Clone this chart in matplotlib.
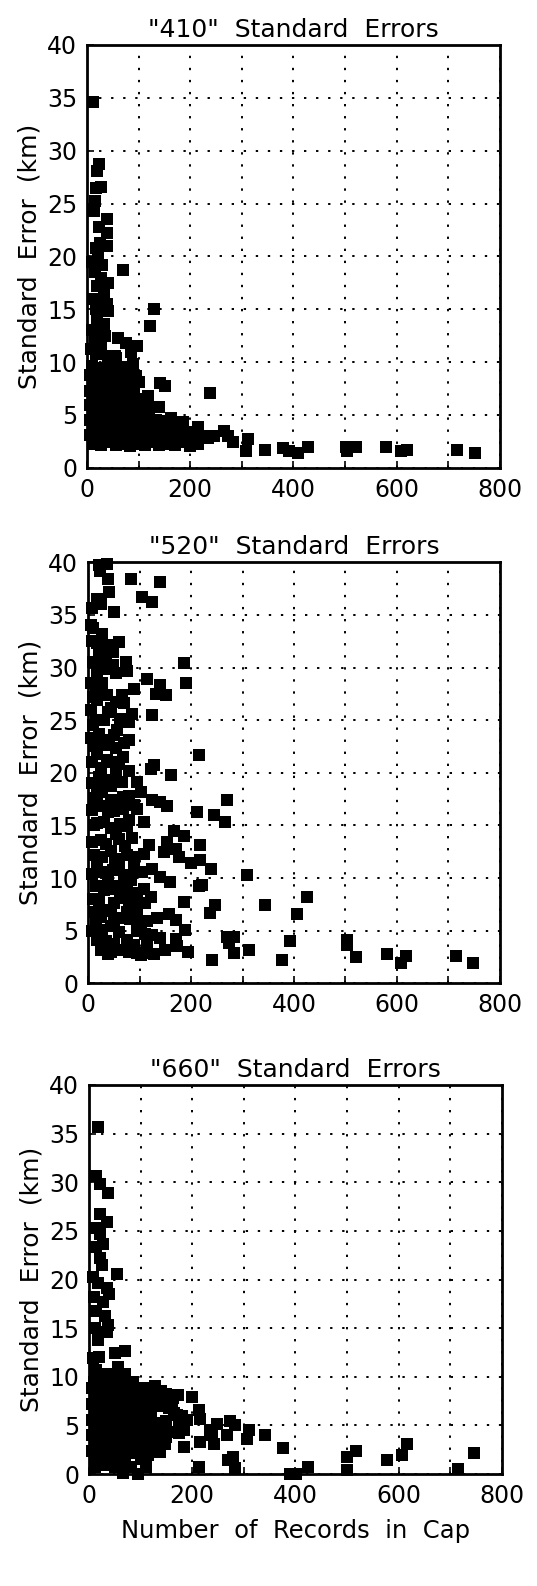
import numpy as np
import matplotlib
matplotlib.use('Agg')
import matplotlib.pyplot as plt

# ------------------------------------------------------
# Data: (records in cap, standard error km)
titles = ['"410"  Standard  Errors', '"520"  Standard  Errors', '"660"  Standard  Errors']

pts410 = [
    (12, 34.6), (23, 28.7), (20, 28.1), (17, 26.5), (28, 26.6), (15, 25.2), (14, 24.3),
    (39, 23.5), (23, 22.8), (38, 22.2), (25, 21.3), (38, 21.0), (18, 20.8), (70, 18.7),
    (10, 19.5), (22, 19.8), (30, 19.2), (15, 18.5), (28, 18.0), (40, 17.5), (20, 17.2),
    (33, 16.6), (12, 16.0), (25, 15.8), (38, 15.5), (30, 15.0), (18, 15.0), (40, 14.8),
    (20, 14.0), (32, 13.6), (10, 13.0), (25, 12.8), (35, 12.5), (15, 12.0), (28, 11.5),
    (60, 12.3), (76, 11.8), (96, 11.5), (86, 11.0), (129, 15.0), (123, 13.4), (18, 10.8),
    (40, 10.5), (55, 10.6), (8, 11.2), (25, 11.2), (44, 10.6), (57, 10.4),
    (10, 9.6), (24, 9.4), (40, 9.7), (58, 9.3), (74, 9.5), (90, 9.8),
    (6, 8.8), (18, 8.9), (33, 8.6), (48, 8.8), (63, 8.9), (80, 8.7), (94, 8.7),
    (12, 8.0), (27, 8.1), (42, 7.9), (56, 8.2), (70, 8.0), (86, 7.9), (100, 8.1),
    (6, 7.3), (20, 7.2), (35, 7.4), (50, 7.3), (64, 7.2), (78, 7.4), (92, 7.3),
    (13, 6.6), (28, 6.5), (42, 6.7), (56, 6.6), (70, 6.5), (84, 6.6), (100, 6.5),
    (6, 5.9), (20, 5.8), (35, 6.0), (50, 5.9), (64, 5.8), (78, 6.0), (92, 5.9), (108, 5.9),
    (13, 5.2), (28, 5.1), (42, 5.3), (56, 5.2), (70, 5.1), (84, 5.3), (100, 5.2), (114, 5.1),
    (6, 4.5), (20, 4.4), (35, 4.6), (50, 4.5), (64, 4.4), (78, 4.6), (92, 4.5), (106, 4.4),
    (120, 4.6), (134, 4.5), (148, 4.4),
    (13, 3.8), (28, 3.7), (42, 3.9), (56, 3.8), (70, 3.7), (84, 3.9), (98, 3.8), (112, 3.7),
    (126, 3.9), (140, 3.8), (155, 3.7), (170, 3.9), (185, 3.6), (200, 3.4),
    (6, 3.1), (20, 3.0), (35, 3.2), (50, 3.1), (64, 3.0), (78, 3.2), (92, 3.1), (106, 3.0),
    (120, 3.2), (134, 3.1), (148, 3.0), (162, 3.2), (176, 3.1), (190, 3.0), (205, 3.1), (222, 3.0),
    (13, 2.3), (28, 2.2), (42, 2.4), (56, 2.2), (70, 2.3), (84, 2.1), (98, 2.3), (112, 2.2),
    (126, 2.4), (140, 2.2), (155, 2.3), (170, 2.2), (185, 2.4), (200, 2.1), (215, 2.3),
    (163, 4.7), (186, 4.3), (215, 3.9), (238, 7.1), (141, 8.0), (152, 7.7), (118, 6.8),
    (125, 5.8), (140, 5.8), (265, 3.5), (273, 3.0), (247, 3.0), (235, 2.8), (312, 2.7),
    (283, 2.4), (309, 1.6), (344, 1.7), (379, 1.9), (391, 1.6), (408, 1.4), (428, 2.0),
    (501, 2.0), (503, 1.6), (522, 2.0), (580, 2.0), (609, 1.6), (620, 1.7), (716, 1.7),
    (751, 1.4),
]

pts520 = [
    (21, 39.7), (37, 39.8), (23, 39.2), (39, 38.4), (83, 38.4), (140, 38.1), (105, 36.7),
    (125, 36.2), (17, 36.5), (26, 36.0), (41, 37.2), (8, 35.7), (50, 35.3), (10, 33.8),
    (28, 33.2), (18, 32.3), (36, 32.1), (60, 32.4), (49, 31.5), (21, 31.6), (186, 30.4),
    (73, 30.5), (76, 29.7), (49, 30.2), (31, 29.9), (18, 29.4), (115, 28.9), (191, 28.5),
    (140, 28.3), (89, 28.0), (131, 27.5), (152, 27.4), (15, 28.0), (36, 27.4), (54, 26.7),
    (70, 26.6), (18, 26.9), (38, 25.8), (86, 25.6), (125, 25.5), (79, 24.8), (57, 24.1),
    (15, 25.0), (21, 23.7), (79, 23.1), (41, 23.1), (54, 22.4), (215, 21.7), (67, 21.5),
    (18, 21.8), (36, 21.2), (128, 20.7), (122, 20.4), (79, 20.2), (162, 19.8), (54, 19.9),
    (21, 19.6), (95, 19.1), (44, 18.7), (102, 18.2), (18, 18.0), (67, 17.7), (125, 17.4),
    (140, 17.2), (270, 17.4), (60, 17.1), (154, 16.8), (95, 16.6), (212, 16.3), (38, 16.3),
    (244, 16.0), (79, 15.5), (266, 15.3), (108, 15.3), (18, 15.2), (167, 14.5), (186, 14.0),
    (54, 14.2), (86, 13.8), (25, 13.6), (154, 13.4), (217, 13.1), (118, 13.1), (170, 12.8),
    (147, 12.5), (44, 12.6), (76, 12.2), (177, 12.0), (108, 12.3), (217, 11.7), (199, 11.4),
    (60, 11.4), (18, 11.4), (125, 10.9), (238, 10.9), (89, 10.9), (309, 10.3), (105, 10.6),
    (140, 10.1), (83, 9.8), (159, 9.6), (38, 9.8), (222, 9.3), (215, 9.2), (60, 9.2),
    (15, 9.2), (108, 9.0), (425, 8.2), (122, 8.2), (186, 7.7), (344, 7.4), (247, 7.4),
    (50, 7.6), (89, 7.7), (236, 6.7), (405, 6.6), (12, 6.8), (25, 6.3), (63, 6.2),
    (134, 6.2), (157, 6.6), (170, 6.0), (102, 5.7), (189, 5.1), (44, 5.4), (270, 4.4),
    (283, 4.4), (273, 3.8), (393, 4.0), (503, 4.1), (503, 3.6), (18, 4.1), (170, 4.2),
    (125, 4.6), (76, 4.1), (25, 3.2), (38, 2.8), (63, 3.2), (102, 2.7), (128, 2.8),
    (149, 3.2), (173, 3.5), (194, 3.0), (283, 2.9), (312, 3.2), (241, 2.2), (377, 2.2),
    (521, 2.5), (580, 2.8), (608, 1.9), (618, 2.6), (715, 2.6), (748, 1.9),
    (8, 19.0), (30, 19.3), (66, 19.1), (12, 17.6), (28, 18.2), (45, 17.4), (80, 17.8),
    (8, 16.5), (25, 16.8), (50, 16.4), (68, 16.6), (90, 16.9), (12, 15.0), (30, 15.3),
    (45, 14.8), (62, 15.1), (75, 14.9), (8, 13.4), (35, 13.2), (60, 13.7), (72, 13.0),
    (12, 12.2), (28, 12.0), (52, 11.8), (90, 12.0), (8, 10.4), (25, 10.6), (48, 10.8),
    (70, 10.3), (30, 8.9), (45, 9.0), (75, 8.7), (95, 8.6), (10, 8.0), (22, 7.9), (62, 8.1),
    (80, 7.9), (110, 7.6), (32, 7.0), (45, 6.9), (75, 6.8), (95, 6.8), (15, 5.8), (50, 6.0),
    (82, 6.1), (115, 5.9), (8, 5.0), (28, 5.1), (60, 4.9), (95, 5.0), (110, 4.7), (35, 4.0),
    (50, 3.7), (90, 3.6), (140, 4.3), (115, 3.5), (45, 3.0), (80, 3.0), (95, 2.9), (110, 2.9),
    (6, 34.0), (8, 32.5), (10, 30.5), (6, 28.5), (10, 27.2), (6, 26.0), (10, 24.5), (6, 23.3),
    (12, 22.5), (8, 21.0), (28, 28.5), (30, 25.0), (35, 22.6), (45, 21.0), (25, 20.5),
    (60, 20.8), (70, 22.8), (50, 23.6), (62, 25.1), (45, 26.2), (35, 30.8), (55, 29.5),
    (25, 31.0), (65, 27.4),
]

pts660 = [
    (17, 35.7), (13, 30.6), (21, 29.8), (37, 28.9), (22, 26.7), (34, 25.9), (14, 25.3),
    (21, 24.7), (28, 23.7), (13, 23.3), (21, 22.2), (26, 21.5), (54, 20.6), (8, 20.3),
    (17, 19.6), (34, 19.1), (39, 18.5), (9, 18.2), (27, 17.7), (14, 16.8), (32, 16.2),
    (37, 15.3), (11, 15.0), (34, 14.6), (17, 13.8), (69, 12.6), (50, 12.4), (19, 12.0),
    (8, 11.9), (56, 11.0), (69, 10.3), (37, 10.3), (14, 10.7), (85, 9.5), (127, 9.1),
    (140, 8.5), (199, 7.9), (173, 8.1), (163, 7.8), (213, 6.6), (215, 5.7), (170, 6.1),
    (273, 5.5), (283, 5.0), (248, 5.1), (310, 4.5), (341, 4.0), (268, 4.0), (235, 4.5),
    (238, 4.0), (306, 3.6), (215, 3.3), (242, 3.1), (184, 2.8), (376, 2.7), (147, 3.1),
    (137, 2.3), (517, 2.4), (499, 1.8), (617, 3.1), (606, 2.0), (578, 1.4), (746, 2.2),
    (714, 0.5), (499, 0.4), (425, 0.75), (396, 0.0), (402, 0.0), (389, 0.0), (279, 1.8),
    (270, 1.4), (283, 0.6), (213, 0.7), (111, 0.75), (95, 0.0), (82, 0.75), (66, 0.1),
    (11, 0.75), (21, 1.8), (106, 3.8), (124, 3.1), (114, 2.0),
    (10, 9.5), (25, 9.8), (45, 9.6), (60, 9.9), (80, 9.3),
    (6, 8.8), (18, 8.7), (35, 8.9), (50, 8.6), (65, 8.8), (90, 8.7), (105, 8.8), (120, 8.4),
    (12, 8.0), (28, 8.1), (42, 7.9), (56, 8.0), (72, 8.1), (95, 7.8), (110, 8.0), (130, 7.7),
    (150, 8.2), (160, 7.4),
    (6, 7.2), (20, 7.1), (35, 7.3), (50, 7.2), (64, 7.0), (80, 7.3), (100, 7.1), (118, 7.2),
    (140, 7.0), (155, 6.8),
    (13, 6.4), (28, 6.3), (42, 6.5), (56, 6.4), (70, 6.3), (86, 6.5), (104, 6.2), (120, 6.4),
    (165, 6.3), (180, 6.0), (190, 5.6),
    (6, 5.6), (20, 5.5), (35, 5.7), (50, 5.6), (64, 5.5), (78, 5.7), (92, 5.6), (110, 5.4),
    (130, 5.2), (150, 5.5), (175, 5.4),
    (13, 4.8), (28, 4.7), (42, 4.9), (56, 4.8), (70, 4.7), (84, 4.9), (98, 4.8), (115, 4.6),
    (140, 4.6), (160, 4.3), (185, 4.5),
    (6, 4.0), (20, 3.9), (35, 4.1), (50, 4.0), (64, 3.9), (78, 4.1), (92, 3.9), (125, 4.0),
    (150, 3.8), (175, 4.2),
    (13, 3.2), (28, 3.1), (42, 3.3), (56, 3.2), (70, 3.1), (84, 3.3), (100, 3.1), (135, 3.4),
    (6, 2.4), (20, 2.3), (35, 2.5), (50, 2.4), (64, 2.3), (78, 2.5), (92, 2.2), (120, 2.6),
    (13, 1.6), (28, 1.7), (42, 1.5), (56, 1.6), (70, 1.4), (100, 1.5),
    (35, 0.9), (50, 0.7), (60, 0.8),
]

x_ticks = [0, 100, 200, 300, 400, 500, 600, 700, 800]
x_tick_labels = ['0', '', '200', '', '400', '', '600', '', '800']
y_ticks = [0, 5, 10, 15, 20, 25, 30, 35, 40]
# ------------------------------------------------------

plt.rcParams['font.family'] = ['DejaVu Sans']

fig = plt.figure(figsize=(5.37, 15.86), dpi=100)

# axes boxes in figure fractions [left, bottom, width, height]
boxes = [
    [0.162, 0.705, 0.769, 0.2667],
    [0.164, 0.380, 0.767, 0.2655],
    [0.1657, 0.0706, 0.769, 0.2453],
]

for pts, title, box in zip([pts410, pts520, pts660], titles, boxes):
    ax = fig.add_axes(box)
    xs = np.array([p[0] for p in pts])
    ys = np.array([p[1] for p in pts])
    ax.scatter(xs, ys, marker='s', s=75, color='black', linewidths=0, zorder=3, clip_on=False)
    ax.set_xlim(0, 800)
    ax.set_ylim(0, 40)
    ax.set_xticks(x_ticks)
    ax.set_xticklabels(x_tick_labels)
    ax.set_yticks(y_ticks)
    ax.grid(True, color='black', linestyle=(0, (1.2, 5)), linewidth=1.4)
    ax.tick_params(direction='in', length=5, width=1.2, labelsize=17, pad=7)
    for sp in ax.spines.values():
        sp.set_linewidth(2.0)
    ax.set_title(title, fontsize=18, pad=6)
    ax.set_ylabel('Standard  Error  (km)', fontsize=18, labelpad=4)

ax.set_xlabel('Number  of  Records  in  Cap', fontsize=17.5, labelpad=8)

fig.savefig('out.png', dpi=100)
